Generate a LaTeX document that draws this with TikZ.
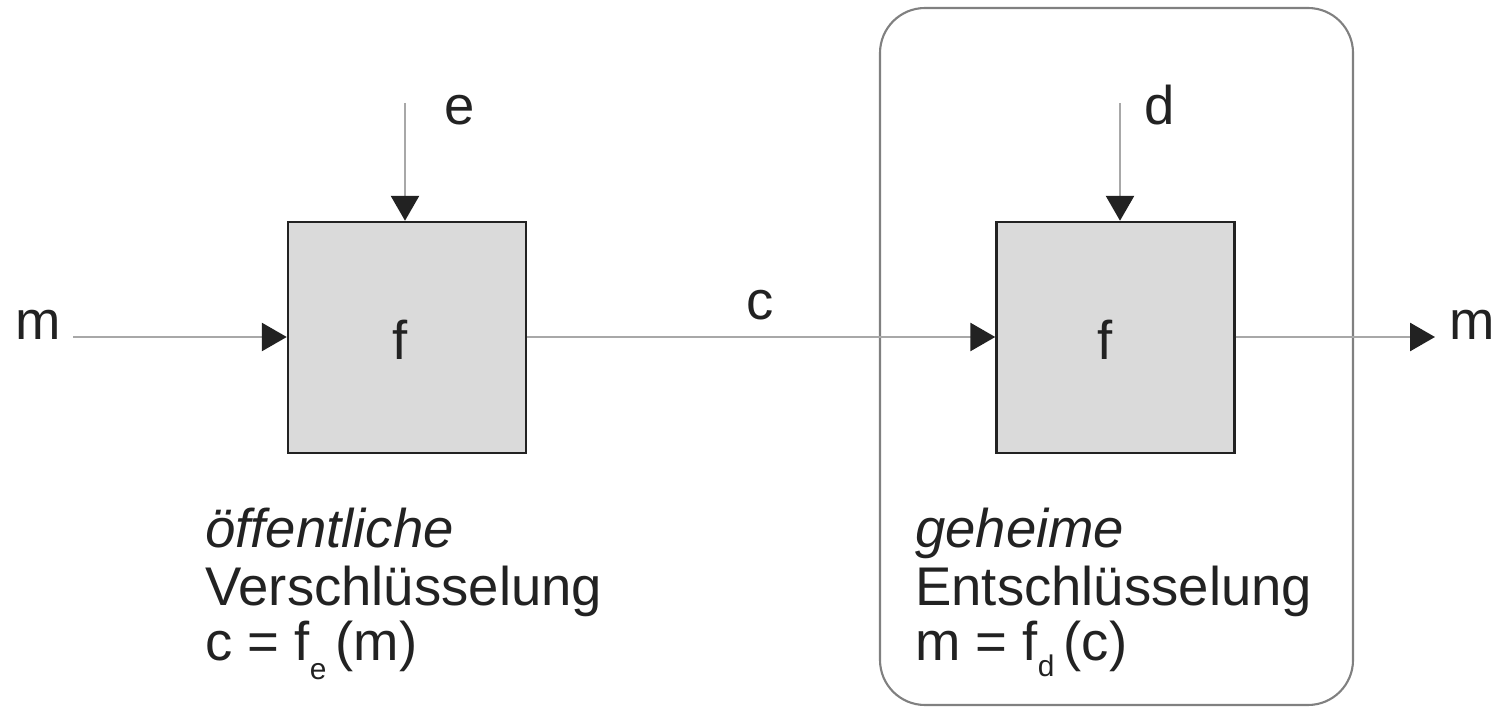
\documentclass[tikz,border=0pt]{standalone}
\usepackage{fontspec}
\setmainfont{Liberation Sans}
\usetikzlibrary{arrows.meta}
\definecolor{boxfill}{HTML}{DADADA}
\definecolor{linegray}{HTML}{A8A8A8}
\definecolor{framegray}{HTML}{808080}
\definecolor{ink}{HTML}{222222}
\tikzset{
  fbox/.style={draw=ink, line width=1.4pt, fill=boxfill, minimum width=4.76cm, minimum height=4.62cm, inner sep=0pt},
  flow/.style={draw=linegray, line width=1.6pt, -{Triangle[length=0.5cm,width=0.56cm,color=ink]}},
  plain/.style={draw=linegray, line width=1.6pt},
  lbl/.style={font=\fontsize{31pt}{36pt}\selectfont, text=ink, inner sep=0pt, anchor=base},
  txt/.style={font=\fontsize{31pt}{36pt}\selectfont, text=ink, inner sep=0pt, anchor=base west},
  frame/.style={draw=framegray, line width=1.2pt, rounded corners=0.9cm}
}
\begin{document}
\begin{tikzpicture}
\useasboundingbox (0,0) rectangle (29.94,14.14);
\draw[frame] (17.60,0.04) rectangle (27.06,13.98);
\node[fbox] (b1) at (8.14,7.39) {};
\node[fbox] (b2) at (22.31,7.39) {};
\node[lbl] (f1) at (8.0,6.94) {f};
\node[lbl] (f2) at (22.1,6.94) {f};
\coordinate (min) at (1.46,7.40);
\coordinate (mout) at (28.70,7.40);
\coordinate (ein) at (8.10,12.08);
\coordinate (din) at (22.40,12.08);
\draw[flow] (min) -- (min -| b1.west);
\draw[flow] (b1.east |- min) -- (b2.west |- min);
\draw[flow] (b2.east |- mout) -- (mout);
\draw[flow] (ein) -- (ein |- b1.north);
\draw[flow] (din) -- (din |- b2.north);
\node[lbl] (ml) at (0.76,7.34) {m};
\node[lbl] (mr) at (29.45,7.34) {m};
\node[lbl] (el) at (9.2,11.64) {e};
\node[lbl] (dl) at (23.2,11.64) {d};
\node[lbl] (cl) at (15.2,7.74) {c};
\node[txt] (t1) at (4.10,3.20) {\itshape öffentliche};
\node[txt] (t2) at (4.10,2.04) {Verschlüsselung};
\node[txt] (t3) at (4.10,0.94) {c = f\raisebox{-0.35em}{\fontsize{17pt}{18pt}\selectfont e}\,(m)};
\node[txt] (t4) at (18.30,3.20) {\itshape geheime};
\node[txt] (t5) at (18.30,2.04) {Entschlüsselung};
\node[txt] (t6) at (18.30,0.94) {m = f\raisebox{-0.3em}{\fontsize{17pt}{18pt}\selectfont d}\,(c)};
\end{tikzpicture}
\end{document}
